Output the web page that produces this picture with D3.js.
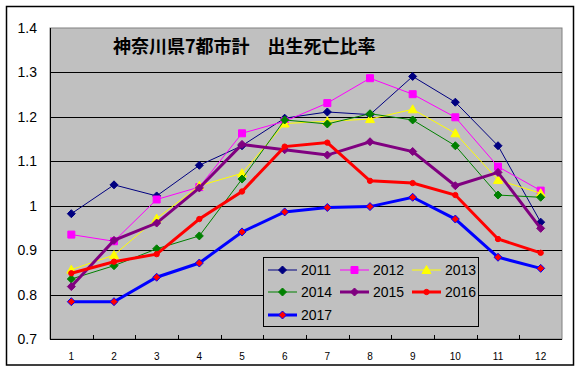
<!DOCTYPE html>
<html>
<head>
<meta charset="utf-8">
<script src="https://cdn.jsdelivr.net/npm/d3@7"></script>
<style>
  body { margin: 0; background: #fff; }
  text { font-family: Arial, "Liberation Sans", sans-serif; }
</style>
</head>
<body>
<div id="container"></div>
<script>
const months = [1, 2, 3, 4, 5, 6, 7, 8, 9, 10, 11, 12];
const yTicks = [0.7, 0.8, 0.9, 1.0, 1.1, 1.2, 1.3, 1.4];
const title = '神奈川県7都市計　出生死亡比率';

const y2011 = [0.982, 1.047, 1.022, 1.091, 1.135, 1.197, 1.211, 1.205, 1.291, 1.233, 1.135, 0.963];
const y2012 = [0.935, 0.920, 1.014, 1.042, 1.163, 1.190, 1.231, 1.287, 1.251, 1.199, 1.088, 1.034];
const y2013 = [0.856, 0.889, 0.971, 1.045, 1.073, 1.185, 1.190, 1.195, 1.217, 1.163, 1.058, 1.028];
const y2014 = [0.835, 0.865, 0.903, 0.932, 1.060, 1.193, 1.184, 1.207, 1.193, 1.135, 1.024, 1.019];
const y2015 = [0.818, 0.922, 0.961, 1.040, 1.138, 1.126, 1.114, 1.144, 1.122, 1.045, 1.075, 0.949];
const y2016 = [0.848, 0.874, 0.891, 0.970, 1.032, 1.133, 1.142, 1.056, 1.051, 1.024, 0.925, 0.894];
const y2017 = [0.784, 0.784, 0.839, 0.871, 0.941, 0.986, 0.996, 0.998, 1.019, 0.970, 0.884, 0.859];

const series = [
  { name: '2011', values: y2011, color: '#000080', width: 1, marker: 'diamond', fill: '#000080', stroke: '#000080', size: 7 },
  { name: '2012', values: y2012, color: '#ff00ff', width: 1, marker: 'square', fill: '#ff00ff', stroke: '#ff00ff', size: 7 },
  { name: '2013', values: y2013, color: '#ffff00', width: 1, marker: 'triangle', fill: '#ffff00', stroke: '#ffff00', size: 7 },
  { name: '2014', values: y2014, color: '#008000', width: 1, marker: 'diamond', fill: '#008000', stroke: '#008000', size: 7 },
  { name: '2015', values: y2015, color: '#800080', width: 3, marker: 'diamond', fill: '#800080', stroke: '#800080', size: 7 },
  { name: '2016', values: y2016, color: '#ff0000', width: 3, marker: 'circle', fill: '#ff0000', stroke: '#ff0000', size: 5 },
  { name: '2017', values: y2017, color: '#0000ff', width: 3, marker: 'diamond', fill: '#ff0000', stroke: '#0000ff', size: 7 }
];

const W = 582, H = 373;
const plot = { left: 50, top: 28, right: 562, bottom: 339 };

const svg = d3.select('#container').append('svg')
  .attr('width', W)
  .attr('height', H);

// outer frame
svg.append('rect')
  .attr('x', 6.5).attr('y', 6.5)
  .attr('width', 567).attr('height', 358.5)
  .attr('fill', '#fff')
  .attr('stroke', '#000')
  .attr('stroke-width', 1.5);

const x = d3.scaleBand()
  .domain(months)
  .range([plot.left, plot.right]);

const y = d3.scaleLinear()
  .domain([0.7, 1.4])
  .range([plot.bottom, plot.top]);

const cx = (m) => x(m) + x.bandwidth() / 2;

// plot area
svg.append('rect')
  .attr('x', plot.left).attr('y', plot.top)
  .attr('width', plot.right - plot.left)
  .attr('height', plot.bottom - plot.top)
  .attr('fill', '#c0c0c0')
  .attr('stroke', '#808080')
  .attr('stroke-width', 1);

// grid lines
svg.append('g')
  .selectAll('line')
  .data(yTicks.filter((d) => d > 0.7 && d < 1.4))
  .enter().append('line')
  .attr('x1', plot.left).attr('x2', plot.right)
  .attr('y1', (d) => Math.round(y(d)) + 0.5)
  .attr('y2', (d) => Math.round(y(d)) + 0.5)
  .attr('stroke', '#000')
  .attr('stroke-width', 1);

// axes lines
svg.append('line')
  .attr('x1', plot.left + 0.5).attr('x2', plot.left + 0.5)
  .attr('y1', plot.top).attr('y2', plot.bottom)
  .attr('stroke', '#000');
svg.append('line')
  .attr('x1', plot.left).attr('x2', plot.right)
  .attr('y1', plot.bottom + 0.5).attr('y2', plot.bottom + 0.5)
  .attr('stroke', '#000');

// x tick marks at category boundaries (inside)
svg.append('g')
  .selectAll('line')
  .data(months.slice(1))
  .enter().append('line')
  .attr('x1', (d) => Math.round(x(d)) + 0.5)
  .attr('x2', (d) => Math.round(x(d)) + 0.5)
  .attr('y1', plot.bottom)
  .attr('y2', plot.bottom - 4)
  .attr('stroke', '#000');

// y axis labels
const yAxis = d3.axisLeft(y)
  .tickValues(yTicks)
  .tickSize(0)
  .tickPadding(13)
  .tickFormat((d) => d === 1 ? '1' : d.toFixed(1));

svg.append('g')
  .attr('transform', 'translate(' + plot.left + ',0)')
  .call(yAxis)
  .call((g) => g.select('.domain').remove())
  .selectAll('text')
  .style('font-family', 'Arial, "Liberation Sans", sans-serif')
  .style('font-size', '14px')
  .attr('fill', '#000');

// x axis labels
const xAxis = d3.axisBottom(x)
  .tickSize(0)
  .tickPadding(14);

svg.append('g')
  .attr('transform', 'translate(0,' + plot.bottom + ')')
  .call(xAxis)
  .call((g) => g.select('.domain').remove())
  .selectAll('text')
  .style('font-family', 'Arial, "Liberation Sans", sans-serif')
  .style('font-size', '10px')
  .attr('fill', '#000');

// title
svg.append('text')
  .attr('x', 113)
  .attr('y', 53)
  .style('font-family', '"Noto Sans CJK JP", sans-serif')
  .style('font-size', '18px')
  .style('font-weight', 'bold')
  .text(title);

function markerPath(type, s) {
  const h = s / 2;
  if (type === 'diamond') return 'M0,' + (-h - 0.5) + 'L' + (h + 0.5) + ',0L0,' + (h + 0.5) + 'L' + (-h - 0.5) + ',0Z';
  if (type === 'square') return 'M' + (-h) + ',' + (-h) + 'h' + s + 'v' + s + 'h' + (-s) + 'Z';
  if (type === 'triangle') return 'M0,' + (-h - 1) + 'L' + (h + 1) + ',' + h + 'L' + (-h - 1) + ',' + h + 'Z';
  return d3.symbol().type(d3.symbolCircle).size(s * s * 0.9)();
}

const line = d3.line()
  .x((d, i) => cx(months[i]))
  .y((d) => y(d));

series.forEach((s) => {
  const g = svg.append('g').attr('class', 'series');
  g.append('path')
    .datum(s.values)
    .attr('d', line)
    .attr('fill', 'none')
    .attr('stroke', s.color)
    .attr('stroke-width', s.width);

  g.selectAll('path.marker')
    .data(s.values)
    .enter().append('path')
    .attr('class', 'marker')
    .attr('transform', (d, i) => 'translate(' + cx(months[i]) + ',' + y(d) + ')')
    .attr('d', markerPath(s.marker, s.size))
    .attr('fill', s.fill)
    .attr('stroke', s.stroke)
    .attr('stroke-width', 1);
});

// legend
const legend = svg.append('g');
legend.append('rect')
  .attr('x', 263.5).attr('y', 257.5)
  .attr('width', 215).attr('height', 69)
  .attr('fill', '#c0c0c0')
  .attr('stroke', '#000')
  .attr('stroke-width', 1);

const colX = [268, 340, 412];
const rowY = [270, 292, 315];

const item = legend.selectAll('g.item')
  .data(series)
  .enter().append('g')
  .attr('class', 'item')
  .attr('transform', (d, i) => 'translate(' + colX[i % 3] + ',' + rowY[Math.floor(i / 3)] + ')');

item.append('line')
  .attr('x1', 0).attr('x2', 29)
  .attr('y1', 0).attr('y2', 0)
  .attr('stroke', (d) => d.color)
  .attr('stroke-width', (d) => d.width);

item.append('path')
  .attr('transform', 'translate(14.5,0)')
  .attr('d', (d) => markerPath(d.marker, d.size))
  .attr('fill', (d) => d.fill)
  .attr('stroke', (d) => d.stroke);

item.append('text')
  .attr('x', 33)
  .attr('y', 5)
  .style('font-size', '14px')
  .attr('fill', '#000')
  .text((d) => d.name);
</script>
</body>
</html>
